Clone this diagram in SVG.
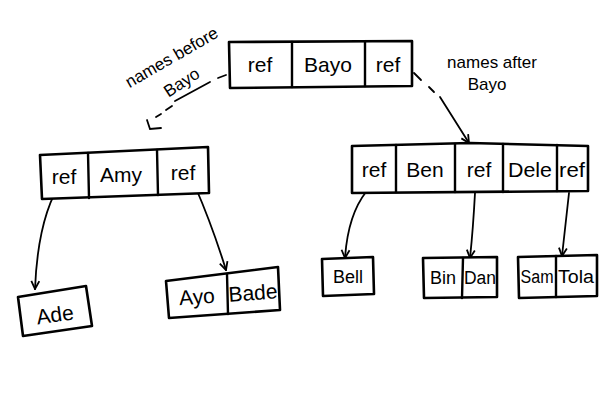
<svg xmlns="http://www.w3.org/2000/svg" width="599" height="405" viewBox="0 0 599 405">
<defs>
<style>
.box{fill:#fff;stroke:#000;stroke-width:2.6;stroke-linejoin:round}
.ln{stroke:#000;stroke-width:2.4;fill:none;stroke-linecap:round}
.c{stroke:#000;stroke-width:1.8;fill:none;stroke-linecap:round}
.t{font-family:"Liberation Sans",Arial,sans-serif;font-size:21px;fill:#000;text-anchor:middle}
.l{font-family:"Liberation Sans",Arial,sans-serif;font-size:18px;fill:#000;text-anchor:middle}
.s{font-family:"Liberation Sans",Arial,sans-serif;font-size:17px;fill:#000;text-anchor:middle}
</style>
<marker id="ah" viewBox="0 0 10 10" refX="9" refY="5" markerWidth="10" markerHeight="10" markerUnits="userSpaceOnUse" orient="auto">
<path d="M1,1 L9,5 L1,9" fill="none" stroke="#000" stroke-width="1.8"/>
</marker>
</defs>
<rect width="599" height="405" fill="#fff"/>
<g id="connectors">
<path class="c" d="M63,179 Q38,215 35,289" marker-end="url(#ah)"/>
<path class="c" d="M195,186 Q212,225 226,270" marker-end="url(#ah)"/>
<path class="c" d="M366,192 Q348,215 345,258" marker-end="url(#ah)"/>
<path class="c" d="M475,193 Q473,230 470,258" marker-end="url(#ah)"/>
<path class="c" d="M569,193 Q565,230 562,256" marker-end="url(#ah)"/>
<path class="c" d="M414,73 L421,80"/>
<path class="c" d="M429,87 L434,92"/>
<path class="c" d="M440,97 L469,143" marker-end="url(#ah)"/>
<path class="c" d="M226,75 L218,78"/>
<path class="c" d="M210,82 L175,101"/>
<path class="c" d="M172,106 L166,110"/>
<path class="c" d="M161,114 L156,117"/>
<path class="c" d="M147,120 L150,129 L161,128"/>
</g>
<g id="node-root">
<polygon class="box" points="229,42 412,41 412,86 230,88"/>
<line class="ln" x1="292" y1="42" x2="292" y2="87"/>
<line class="ln" x1="365" y1="42" x2="365" y2="86"/>
<text class="t" x="260" y="72">ref</text>
<text class="t" x="328" y="72">Bayo</text>
<text class="t" x="388" y="72">ref</text>
</g>
<g id="node-amy">
<polygon class="box" points="40,155 208,147 209,193 42,199"/>
<line class="ln" x1="88" y1="153" x2="89" y2="198"/>
<line class="ln" x1="157" y1="150" x2="158" y2="195"/>
<text class="t" x="64" y="184">ref</text>
<text class="t" x="121" y="182">Amy</text>
<text class="t" x="183" y="180">ref</text>
</g>
<g id="node-ben">
<polygon class="box" points="352,146 470,143 588,146 588,191 352,193"/>
<line class="ln" x1="396" y1="145" x2="396" y2="192"/>
<line class="ln" x1="455" y1="144" x2="455" y2="192"/>
<line class="ln" x1="503" y1="144" x2="503" y2="192"/>
<line class="ln" x1="557" y1="145" x2="557" y2="191"/>
<text class="t" x="374" y="177">ref</text>
<text class="t" x="425" y="177">Ben</text>
<text class="t" x="479" y="177">ref</text>
<text class="t" x="530" y="177" textLength="44" lengthAdjust="spacingAndGlyphs">Dele</text>
<text class="t" x="572" y="177" textLength="26" lengthAdjust="spacingAndGlyphs">ref</text>
</g>
<g id="node-ade">
<polygon class="box" points="18,297 86,286 92,326 23,336"/>
<text class="t" x="55" y="322" transform="rotate(-8 55 315)" font-size="24">Ade</text>
</g>
<g id="node-ayo">
<polygon class="box" points="166,281 278,267 280,310 169,318"/>
<line class="ln" x1="227" y1="274" x2="228" y2="314"/>
<text class="t" x="197" y="304" transform="rotate(-4 197 298)">Ayo</text>
<text class="t" x="253" y="300" transform="rotate(-4 253 294)">Bade</text>
</g>
<g id="node-bell">
<polygon class="box" points="322,259 373,257 374,294 323,296"/>
<text class="l" x="348" y="283">Bell</text>
</g>
<g id="node-bin">
<polygon class="box" points="423,258 497,257 497,297 424,298"/>
<line class="ln" x1="463" y1="258" x2="462" y2="298"/>
<text class="l" x="443" y="284">Bin</text>
<text class="l" x="480" y="284" textLength="32" lengthAdjust="spacingAndGlyphs">Dan</text>
</g>
<g id="node-sam">
<polygon class="box" points="518,257 597,255 597,296 519,298"/>
<line class="ln" x1="556" y1="256" x2="556" y2="297"/>
<text class="l" x="537" y="283" textLength="33" lengthAdjust="spacingAndGlyphs">Sam</text>
<text class="l" x="576" y="283" textLength="36" lengthAdjust="spacingAndGlyphs">Tola</text>
</g>
<g id="labels">
<text class="s" x="172" y="63" transform="rotate(-30 172 58)">names before</text>
<text class="s" x="182" y="88" transform="rotate(-33 182 83)">Bayo</text>
<text class="s" x="492" y="68">names after</text>
<text class="s" x="487" y="90">Bayo</text>
</g>
</svg>
